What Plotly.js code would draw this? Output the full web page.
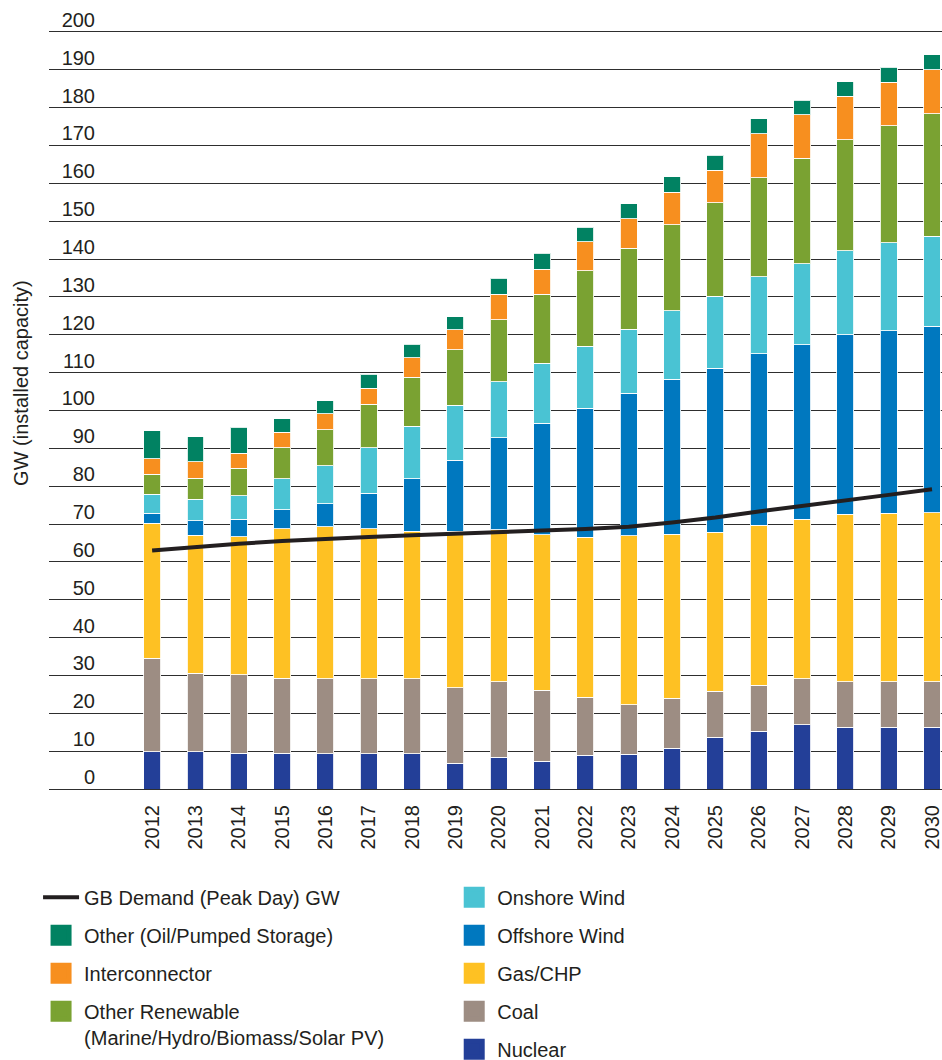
<!DOCTYPE html>
<html>
<head>
<meta charset="utf-8">
<script src="https://cdn.plot.ly/plotly-3.0.1.min.js"></script>
<style>
html,body{margin:0;padding:0;background:#ffffff;}
#chart{width:942px;height:1060px;}
</style>
</head>
<body>
<div id="chart"></div>
<script>
// ---- Data (GW installed capacity) ----
const years = [2012,2013,2014,2015,2016,2017,2018,2019,2020,2021,2022,2023,2024,2025,2026,2027,2028,2029,2030];
const yearLabels = years.map(String);
const yTicks = [0,10,20,30,40,50,60,70,80,90,100,110,120,130,140,150,160,170,180,190,200];

const nuclear        = [9.9, 9.9, 9.5, 9.4, 9.3, 9.3, 9.3, 6.8, 8.4, 7.3, 8.9, 9.2, 10.8, 13.7, 15.2, 17.0, 16.3, 16.3, 16.3];
const coal           = [24.7, 20.7, 20.7, 19.9, 19.8, 19.8, 19.8, 19.9, 19.9, 18.8, 15.4, 13.1, 13.2, 12.1, 12.2, 12.1, 12.0, 12.0, 12.0];
const gasCHP         = [35.6, 36.4, 36.4, 39.4, 40.2, 39.6, 39.0, 41.4, 40.2, 41.0, 42.2, 44.6, 43.3, 42.0, 42.3, 42.2, 44.3, 44.5, 44.7];
const offshoreWind   = [2.7, 3.8, 4.7, 5.1, 6.1, 9.4, 13.9, 18.7, 24.3, 29.5, 34.1, 37.6, 41.0, 43.4, 45.3, 46.1, 47.4, 48.2, 49.3];
const onshoreWind    = [5.0, 5.8, 6.2, 8.1, 10.0, 12.1, 13.8, 14.6, 14.8, 15.9, 16.4, 17.0, 18.0, 19.0, 20.3, 21.3, 22.2, 23.3, 23.7];
const otherRenewable = [5.3, 5.5, 7.2, 8.2, 9.5, 11.5, 13.0, 14.6, 16.4, 18.2, 19.9, 21.4, 22.8, 24.7, 26.2, 27.9, 29.3, 30.9, 32.4];
const interconnector = [4.0, 4.3, 4.0, 4.2, 4.2, 4.1, 5.1, 5.3, 6.7, 6.6, 7.6, 7.7, 8.6, 8.5, 11.6, 11.5, 11.5, 11.5, 11.6];
const otherOilPumped = [7.5, 6.7, 6.8, 3.5, 3.5, 3.7, 3.6, 3.4, 4.2, 4.2, 3.9, 4.0, 4.0, 4.0, 4.0, 3.9, 3.8, 3.9, 4.0];
const demandPeakDay  = [63.0, 64.0, 64.8, 65.5, 66.1, 66.6, 67.0, 67.5, 68.0, 68.3, 68.7, 69.3, 70.4, 71.7, 73.3, 74.7, 76.3, 77.7, 79.2];

// ---- Series (stack order bottom -> top) ----
const series = [
  {name:'Nuclear', values:nuclear, color:'#233f98', legend:'legend2'},
  {name:'Coal', values:coal, color:'#9d8d83', legend:'legend2'},
  {name:'Gas/CHP', values:gasCHP, color:'#fec123', legend:'legend2'},
  {name:'Offshore Wind', values:offshoreWind, color:'#0078bf', legend:'legend2'},
  {name:'Onshore Wind', values:onshoreWind, color:'#4ac3d3', legend:'legend2'},
  {name:'Other Renewable<br>(Marine/Hydro/Biomass/Solar PV)', values:otherRenewable, color:'#7aa232', legend:'legend'},
  {name:'Interconnector', values:interconnector, color:'#f78f1f', legend:'legend'},
  {name:'Other (Oil/Pumped Storage)', values:otherOilPumped, color:'#018262', legend:'legend'}
];

const textColor = '#231f20';
const FONT = '"Liberation Sans", Arial, Helvetica, sans-serif';

const traces = [];
series.forEach(s => {
  traces.push({
    type:'bar', x:years, y:s.values, width:0.39,
    marker:{color:s.color, line:{color:'rgba(255,255,255,0.85)', width:1}},
    showlegend:false, hoverinfo:'skip'
  });
});

// demand line (also first legend entry)
traces.push({
  type:'scatter', mode:'lines', x:years, y:demandPeakDay,
  name:'GB Demand (Peak Day) GW',
  line:{color:'#231f20', width:4},
  legend:'legend', legendgroup:'g0', legendrank:1, hoverinfo:'skip'
});

// legend swatches
const legend1Order = ['Other (Oil/Pumped Storage)','Interconnector','Other Renewable<br>(Marine/Hydro/Biomass/Solar PV)'];
const legend2Order = ['Onshore Wind','Offshore Wind','Gas/CHP','Coal','Nuclear'];
[legend1Order, legend2Order].forEach((order, li) => {
  order.forEach((nm, i) => {
    const s = series.find(q => q.name === nm);
    traces.push({
      type:'scatter', mode:'markers', x:[null], y:[null], name:nm,
      marker:{symbol:'square', size:16, color:s.color, line:{color:s.color, width:5}},
      legend:s.legend, legendgroup:'g' + li + '_' + (i+1), legendrank: i + 2, hoverinfo:'skip'
    });
  });
});

const legendCommon = {
  xref:'container', yref:'container', xanchor:'left', yanchor:'top',
  orientation:'v', traceorder:'grouped', tracegroupgap:9, valign:'top',
  itemwidth:36, bgcolor:'rgba(0,0,0,0)', borderwidth:0,
  font:{family:FONT, size:20, color:textColor}
};

const layout = {
  width:942, height:1060,
  margin:{l:49, r:0, t:30, b:271, pad:0, autoexpand:false},
  paper_bgcolor:'#ffffff', plot_bgcolor:'#ffffff',
  font:{family:FONT, size:20, color:textColor},
  barmode:'stack', bargap:0,
  hovermode:false,
  xaxis:{
    type:'linear', range:[2009.62, 2030.23], automargin:false,
    tickmode:'array', tickvals:years, ticktext:yearLabels, ticklabeloverflow:'allow',
    tickangle:-90, ticks:'', showgrid:false, zeroline:false, showline:false,
    ticklabelstandoff:11, tickfont:{family:FONT, size:20, color:textColor}, fixedrange:true
  },
  yaxis:{
    range:[0,200.5], tickmode:'array', tickvals:yTicks, automargin:false,
    ticks:'', showgrid:true, gridcolor:'#2e2e2e', gridwidth:1,
    zeroline:true, zerolinecolor:'#2e2e2e', zerolinewidth:1, showline:false,
    ticklabelposition:'outside', ticklabelstandoff:-47, ticklabelshift:-12, ticklabeloverflow:'allow',
    tickfont:{family:FONT, size:20, color:textColor}, fixedrange:true
  },
  legend:Object.assign({}, legendCommon, {x:0.0404, y:0.172}),
  legend2:Object.assign({}, legendCommon, {x:0.479, y:0.172}),
  annotations:[{
    text:'GW (installed capacity)', xref:'paper', yref:'paper',
    x:-0.0314, y:0.535, xanchor:'center', yanchor:'middle', textangle:-90,
    showarrow:false, font:{family:FONT, size:20, color:textColor}
  }]
};

Plotly.newPlot('chart', traces, layout, {displayModeBar:false, staticPlot:true});
</script>
</body>
</html>
